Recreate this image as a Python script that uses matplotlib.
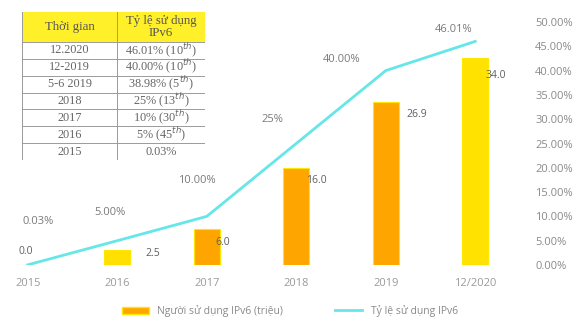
import matplotlib
matplotlib.use('Agg')
import matplotlib.pyplot as plt
import numpy as np
from matplotlib.patches import Rectangle
from matplotlib.lines import Line2D

plt.rcParams['font.family'] = ['Open Sans', 'DejaVu Sans']

# dữ liệu
categories = ['2015', '2016', '2017', '2018', '2019', '12/2020']
users_million = [0.0, 2.5, 6.0, 16.0, 26.9, 34.0]
usage_rate = [0.03, 5.00, 10.00, 25.0, 40.00, 46.01]
rate_labels = ['0.03%', '5.00%', '10.00%', '25%', '40.00%', '46.01%']

table_time = ['12.2020', '12-2019', '5-6 2019', '2018', '2017', '2016', '2015']
table_rate = ['46.01% (10$^{th}$)', '40.00% (10$^{th}$)', '38.98% (5$^{th}$)',
              '25% (13$^{th}$)', '10% (30$^{th}$)', '5% (45$^{th}$)', '0.03%']

# style (màu cột, vị trí nhãn theo pixel)
bar_colors = ['#FFA500', '#FFE000', '#FFA500', '#FFA500', '#FFA500', '#FFE200']
bar_label_off = [(-2, 14), (36, -4), (16, -14), (20, -13), (31, -13), (21, -17)]
line_label_off = [(10, 43), (-7, 28), (-10, 36), (-24, 24), (-44, 11), (-22, 12)]

fig = plt.figure(figsize=(5.75, 3.36), dpi=100)
ax = fig.add_axes([0.0, 0.2113, 520 / 575, 0.7232])
ax2 = ax.twinx()

x = np.arange(len(categories))
bars = ax.bar(x, users_million, width=0.29, color=bar_colors,
              edgecolor='#FFE800', linewidth=0.8, zorder=2)
ax.set_ylim(0, 40)
ax.set_xlim(-0.31, 5.5)
ax.set_yticks([])
ax.set_xticks(x)
ax.set_xticklabels(categories, fontsize=8, color='#9a9a9a')
ax.tick_params(axis='x', length=0, pad=9)
for s in ax.spines.values():
    s.set_visible(False)

for i, v in enumerate(users_million):
    dx, dy = bar_label_off[i]
    ax.annotate(f'{v:.1f}', xy=(x[i], v), xytext=(dx, dy),
                textcoords='offset pixels', ha='center', va='center',
                fontsize=7.5, color='#606060')

ax2.plot(x, usage_rate, color='#66E6E8', linewidth=2, zorder=3)
ax2.set_ylim(0, 50)
ax2.set_yticks(np.arange(0, 51, 5))
ax2.set_yticklabels([f'{t:.2f}%' for t in np.arange(0, 51, 5)],
                    fontsize=8, color='#8a8a8a')
ax2.tick_params(axis='y', length=0, pad=11)
for s in ax2.spines.values():
    s.set_visible(False)

for i, v in enumerate(usage_rate):
    dx, dy = line_label_off[i]
    ax2.annotate(rate_labels[i], xy=(x[i], v), xytext=(dx, dy),
                 textcoords='offset pixels', ha='center', va='center',
                 fontsize=8, color='#7a7a7a')

# legend
handles = [Rectangle((0, 0), 1, 1, facecolor='#FFA500', edgecolor='#FFE800'),
           Line2D([0], [0], color='#66E6E8', linewidth=2)]
fig.legend(handles, ['Người sử dụng IPv6 (triệu)', 'Tỷ lệ sử dụng IPv6'],
           loc='center', bbox_to_anchor=(290 / 575, 1 - 311 / 336), ncol=2,
           frameon=False, fontsize=7.5, labelcolor='#8a8a8a',
           handlelength=2.6, handleheight=0.6, columnspacing=5.0)

# bảng
tab = fig.add_axes([22 / 575, 1 - 160 / 336, 183 / 575, 148 / 336])
tab.set_xlim(0, 1)
tab.set_ylim(1, 0)
tab.axis('off')
split = 0.52
head_h = 0.203
row_h = (1 - head_h) / len(table_time)
tab.add_patch(Rectangle((0, 0), 1, head_h, facecolor='#FFF02A', edgecolor='none'))
tab.add_patch(Rectangle((0, head_h), 1, 1 - head_h, facecolor='white', edgecolor='none'))
serif = ['Liberation Serif', 'DejaVu Serif']
tab.text(split / 2, head_h / 2, 'Thời gian', ha='center', va='center',
         fontsize=9.3, color='#555555', family=serif)
tab.text((1 + split) / 2, head_h / 2, 'Tỷ lệ sử dụng\nIPv6', ha='center',
         va='center', fontsize=9.3, color='#555555', family=serif, linespacing=0.95)
for r in range(len(table_time)):
    yc = head_h + row_h * (r + 0.5)
    tab.text(split / 2, yc, table_time[r], ha='center', va='center',
             fontsize=8.8, color='#666666', family=serif)
    tab.text((1 + split) / 2, yc, table_rate[r], ha='center', va='center',
             fontsize=8.8, color='#666666', family=serif)
    tab.plot([0, 1], [head_h + row_h * (r + 1)] * 2, color='#9a9a9a', lw=0.7)
tab.plot([0, 1], [head_h, head_h], color='#9a9a9a', lw=0.7)
for xv in [0, split, 1]:
    tab.plot([xv, xv], [0, 1], color='#9a9a9a', lw=0.7)

fig.savefig('out.png', dpi=100, facecolor='white')
